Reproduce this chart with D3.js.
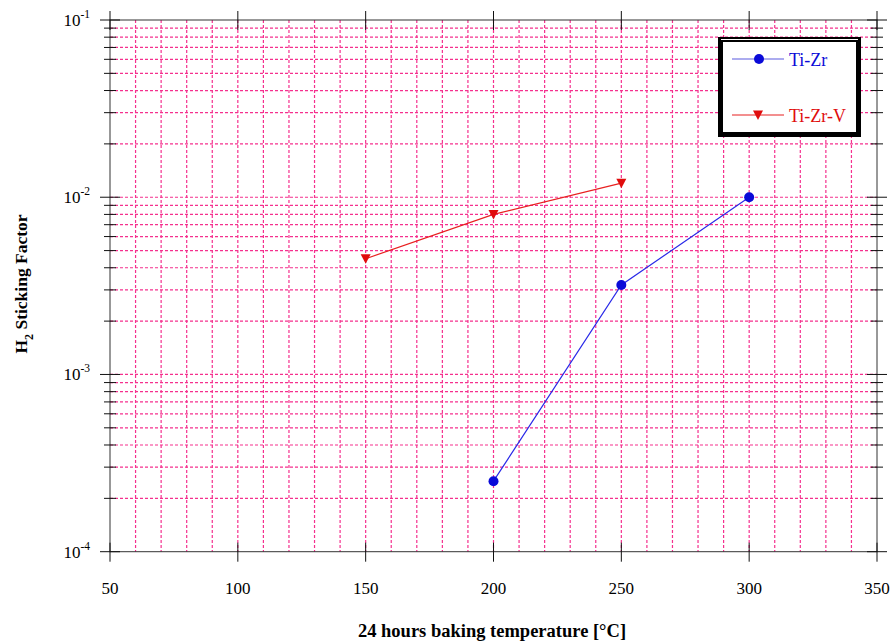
<!DOCTYPE html>
<html>
<head>
<meta charset="utf-8">
<script src="https://cdn.jsdelivr.net/npm/d3@7/dist/d3.min.js"></script>
<style>
  html, body { margin: 0; padding: 0; background: #fff; }
  svg { display: block; }
  text { font-family: "Liberation Serif", "DejaVu Serif", serif; }
</style>
</head>
<body>
<svg id="chart" width="891" height="644"></svg>
<script>
// ---- data ----
const xTicks = [50, 100, 150, 200, 250, 300, 350];
const yTickExponents = [-4, -3, -2, -1];
const seriesNames = ["Ti-Zr", "Ti-Zr-V"];
const tiZrX = [200, 250, 300];
const tiZrY = [2.5e-4, 3.2e-3, 1.0e-2];
const tiZrVX = [150, 200, 250];
const tiZrVY = [4.5e-3, 8.0e-3, 1.2e-2];
const xTitle = "24 hours baking temperature [°C]";
const yTitleMain = "H";
const yTitleSub = "2";
const yTitleRest = " Sticking Factor";

// ---- layout ----
const svg = d3.select("#chart");
const L = 110, R = 877, T = 20, B = 551.7;
const x = d3.scaleLinear().domain([50, 350]).range([L, R]);
const y = d3.scaleLog().domain([1e-4, 1e-1]).range([B, T]);
const gridColor = "#f5308e";

// grid
const g = svg.append("g");
const vGrid = d3.range(60, 350, 10);
g.selectAll("line.vg").data(vGrid).enter().append("line")
  .attr("x1", d => x(d)).attr("x2", d => x(d))
  .attr("y1", T).attr("y2", B)
  .attr("stroke", gridColor).attr("stroke-width", 1.2).attr("stroke-dasharray", "3,2");

const hGrid = [];
[-4, -3, -2].forEach(e => { for (let m = 1; m <= 9; m++) { const v = m * Math.pow(10, e); if (v > 1e-4 * 1.0001) hGrid.push(v); } });
g.selectAll("line.hg").data(hGrid).enter().append("line")
  .attr("x1", L).attr("x2", R)
  .attr("y1", d => y(d)).attr("y2", d => y(d))
  .attr("stroke", gridColor).attr("stroke-width", 1.2).attr("stroke-dasharray", "3,2");

// frame
svg.append("rect").attr("x", L).attr("y", T).attr("width", R - L).attr("height", B - T)
  .attr("fill", "none").attr("stroke", "#333").attr("stroke-width", 1);

// y ticks
const majorY = yTickExponents.map(e => Math.pow(10, e));
const minorY = hGrid.filter(v => !majorY.some(m => Math.abs(m - v) / m < 1e-6));
[[L, -1], [R, 1]].forEach(([ax, s]) => {
  svg.selectAll(null).data(majorY).enter().append("line")
    .attr("x1", ax - 10).attr("x2", ax + 10)
    .attr("y1", d => y(d)).attr("y2", d => y(d))
    .attr("stroke", "#111").attr("stroke-width", 1);
  svg.selectAll(null).data(minorY).enter().append("line")
    .attr("x1", ax - 6).attr("x2", ax + 6)
    .attr("y1", d => y(d)).attr("y2", d => y(d))
    .attr("stroke", "#111").attr("stroke-width", 1);
});
// x ticks
[B, T].forEach(ay => {
  svg.selectAll(null).data(xTicks).enter().append("line")
    .attr("x1", d => x(d)).attr("x2", d => x(d))
    .attr("y1", ay - 9).attr("y2", ay + 10)
    .attr("stroke", "#111").attr("stroke-width", 1);
});

// y tick labels
const yl = svg.selectAll(null).data(yTickExponents).enter().append("text")
  .attr("x", 90).attr("y", d => y(Math.pow(10, d)) + 6)
  .attr("text-anchor", "end").attr("font-size", 17).attr("fill", "#000");
yl.append("tspan").text("10");
yl.append("tspan").attr("dy", -8).attr("font-size", 11.5).text(d => "-" + Math.abs(d));

// x tick labels
svg.selectAll(null).data(xTicks).enter().append("text")
  .attr("x", d => x(d)).attr("y", 594)
  .attr("text-anchor", "middle").attr("font-size", 17).attr("fill", "#000")
  .text(d => d);

// axis titles
svg.append("text").attr("x", 492).attr("y", 637).attr("text-anchor", "middle")
  .attr("font-size", 18.5).attr("font-weight", "bold").text(xTitle);
const yt = svg.append("text").attr("transform", "translate(27,284) rotate(-90)")
  .attr("text-anchor", "middle").attr("font-size", 17.5).attr("font-weight", "bold");
yt.append("tspan").text(yTitleMain);
yt.append("tspan").attr("dy", 6).attr("font-size", 12).text(yTitleSub);
yt.append("tspan").attr("dy", -6).text(yTitleRest);

// series
const blue = "#0a0ad8", red = "#e00c0c";
const line = d3.line().x(d => x(d[0])).y(d => y(d[1]));
const s1 = tiZrX.map((v, i) => [v, tiZrY[i]]);
const s2 = tiZrVX.map((v, i) => [v, tiZrVY[i]]);
svg.append("path").datum(s1).attr("d", line).attr("fill", "none").attr("stroke", "#2a2ae8").attr("stroke-width", 1.2);
svg.append("path").datum(s2).attr("d", line).attr("fill", "none").attr("stroke", "#e82020").attr("stroke-width", 1.2);
svg.selectAll(null).data(s1).enter().append("circle")
  .attr("cx", d => x(d[0])).attr("cy", d => y(d[1])).attr("r", 5).attr("fill", blue);
const tri = "M-5,-4.5L5,-4.5L0,5Z";
svg.selectAll(null).data(s2).enter().append("path")
  .attr("transform", d => `translate(${x(d[0])},${y(d[1])})`).attr("d", tri).attr("fill", red);

// legend
svg.append("rect").attr("x", 720.5).attr("y", 39.5).attr("width", 138).attr("height", 95)
  .attr("fill", "#fff").attr("stroke", "#000").attr("stroke-width", 5);
svg.append("line").attr("x1", 721).attr("x2", 858).attr("y1", 39.5).attr("y2", 39.5)
  .attr("stroke", "#fff").attr("stroke-width", 1);
const legY = [59, 115];
const legColors = [[blue, "#5a5ae0"], [red, "#e82020"]];
seriesNames.forEach((name, i) => {
  svg.append("line").attr("x1", 732).attr("x2", 784).attr("y1", legY[i]).attr("y2", legY[i])
    .attr("stroke", legColors[i][1]).attr("stroke-width", 1.2);
  if (i === 0) {
    svg.append("circle").attr("cx", 759).attr("cy", legY[i]).attr("r", 5).attr("fill", legColors[i][0]);
  } else {
    svg.append("path").attr("transform", `translate(758,${legY[i]})`).attr("d", tri).attr("fill", legColors[i][0]);
  }
  svg.append("text").attr("x", 789).attr("y", legY[i] + 7).attr("font-size", 18)
    .attr("fill", legColors[i][0]).text(name);
});
</script>
</body>
</html>
